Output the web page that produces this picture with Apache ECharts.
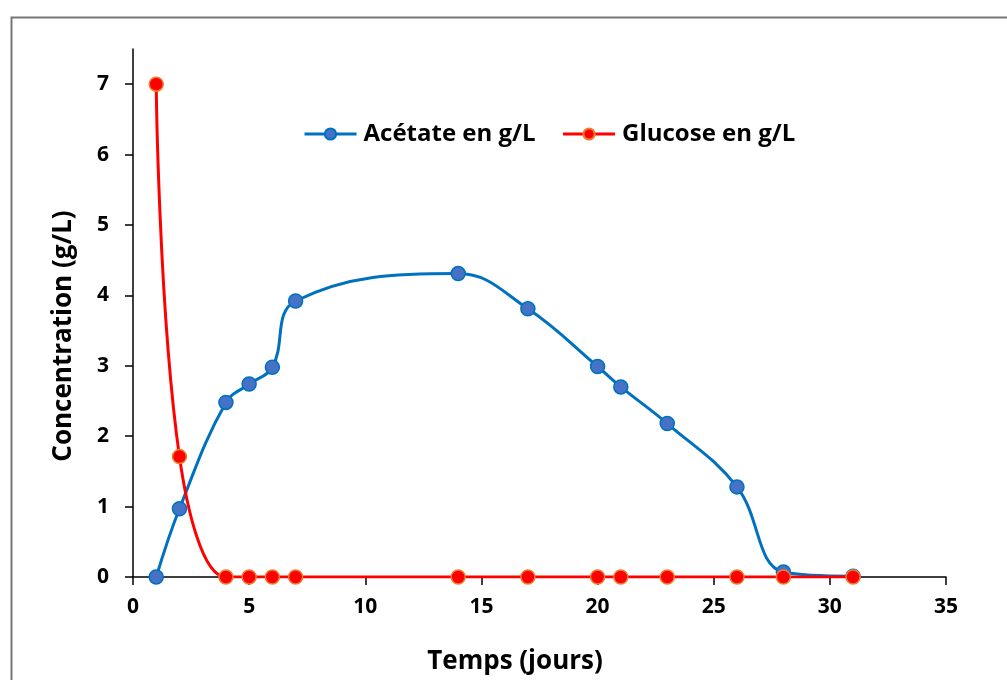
<!DOCTYPE html>
<html>
<head>
<meta charset="utf-8">
<script src="https://cdn.jsdelivr.net/npm/echarts@6/dist/echarts.min.js"></script>
<style>html,body{margin:0;padding:0;background:#fff}#c{width:1007px;height:680px}</style>
</head>
<body>
<div id="c"></div>
<script>
const days = [1, 2, 4, 5, 6, 7, 14, 17, 20, 21, 23, 26, 28, 31];
const acetate = [0, 0.97, 2.48, 2.74, 2.98, 3.92, 4.31, 3.81, 2.99, 2.70, 2.18, 1.28, 0.07, 0.01];
const glucose = [7, 1.71, 0, 0, 0, 0, 0, 0, 0, 0, 0, 0, 0, 0];
const yTicks = [0, 1, 2, 3, 4, 5, 6, 7];
const xTicks = [0, 5, 10, 15, 20, 25, 30, 35];
const seriesNames = ['Acétate en g/L', 'Glucose en g/L'];
const xName = 'Temps (jours)';
const yName = 'Concentration (g/L)';

const FONT = 'Open Sans';
const chart = echarts.init(document.getElementById('c'), null, {renderer: 'canvas'});
const pair = (xs, ys) => xs.map((x, i) => [x, ys[i]]);
chart.setOption({
  animation: false,
  backgroundColor: '#fff',
  graphic: [{
    type: 'rect', left: 9, top: 15, silent: true,
    shape: {x: 0, y: 0, width: 1100, height: 800},
    style: {fill: 'none', stroke: '#767676', lineWidth: 2}
  }],
  grid: {left: 133, right: 61, top: 49, bottom: 103, containLabel: false},
  legend: {
    left: 298, top: 117,
    itemWidth: 52, itemHeight: 14, itemGap: 26,
    lineStyle: {width: 3},
    textStyle: {fontFamily: FONT, fontWeight: 'bold', fontSize: 24, color: '#000', padding: [0, 0, 0, 2]},
    data: seriesNames
  },
  xAxis: {
    type: 'value', min: 0, max: 35, interval: 5,
    name: xName, nameLocation: 'middle', nameGap: 72,
    nameTextStyle: {fontFamily: FONT, fontWeight: 'bold', fontSize: 26, color: '#000', padding: [0, 49, 0, 0]},
    axisLine: {lineStyle: {color: '#000', width: 1.5}},
    axisTick: {show: true, inside: false, length: 8, lineStyle: {color: '#000', width: 1.5}},
    axisLabel: {fontFamily: FONT, fontWeight: 'bold', fontSize: 21, color: '#000', margin: 20, customValues: xTicks},
    splitLine: {show: false}
  },
  yAxis: {
    type: 'value', min: 0, max: 7.5,
    name: yName, nameLocation: 'middle', nameGap: 56,
    nameTextStyle: {fontFamily: FONT, fontWeight: 'bold', fontSize: 26, color: '#000', padding: [0, 46, 0, 0]},
    axisLine: {show: true, lineStyle: {color: '#000', width: 1.5}},
    axisTick: {show: true, inside: false, length: 8, lineStyle: {color: '#000', width: 1.5}, customValues: yTicks},
    axisLabel: {fontFamily: FONT, fontWeight: 'bold', fontSize: 21, color: '#000', margin: 24, customValues: yTicks},
    splitLine: {show: false}
  },
  series: [
    {
      name: seriesNames[0], type: 'line', data: pair(days, acetate),
      smooth: 0.4, symbol: 'circle', symbolSize: 14,
      lineStyle: {color: '#0070C0', width: 3},
      itemStyle: {color: '#4472C4', borderColor: '#0070C0', borderWidth: 1.5},
      z: 2
    },
    {
      name: seriesNames[1], type: 'line', data: pair(days, glucose),
      smooth: 0.4, symbol: 'circle', symbolSize: 14,
      lineStyle: {color: '#FF0000', width: 3},
      itemStyle: {color: '#FF0000', borderColor: '#ED7D31', borderWidth: 1.5},
      z: 3
    }
  ]
});
</script>
</body>
</html>
